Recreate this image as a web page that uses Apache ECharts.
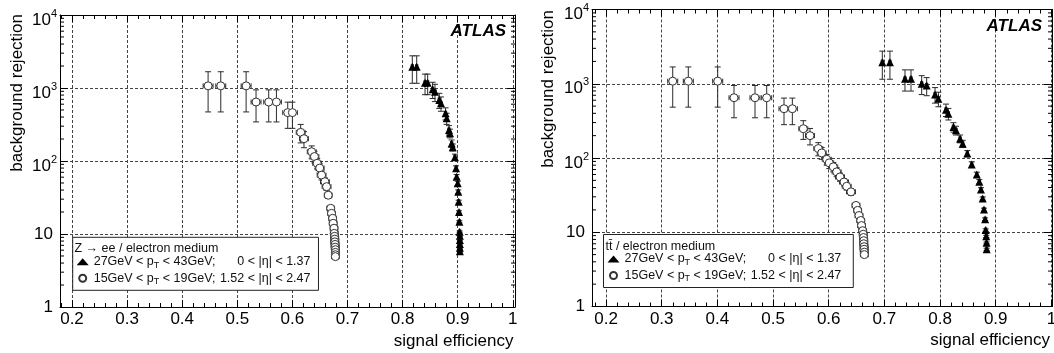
<!DOCTYPE html>
<html><head><meta charset="utf-8">
<script src="https://cdn.jsdelivr.net/npm/echarts@6/dist/echarts.min.js"></script>
<style>html,body{margin:0;padding:0;background:#fff}#c{width:1054px;height:353px}</style>
</head><body><div id="c"></div>
<script>
// ---------- data ----------
// Left panel: Z -> ee
const zeeCircX  = [0.447,0.470,0.516,0.534,0.557,0.571,0.5915,0.600,0.615,0.621,0.635,0.640,0.645,0.6495,0.653,0.659,0.662,0.665,0.6695,0.671,0.673,0.674,0.6755,0.676,0.6765,0.677,0.677,0.6775,0.6775,0.678,0.678,0.678,0.678];
const zeeCircY  = [1070,1070,1070,643,643,643,460,460,247,202,134,115,93,80,64,52,44.5,34,22.5,19.2,16.4,14,12,10.2,9.3,8.5,7.8,7.2,6.6,6.1,5.6,5.2,4.9];
const zeeCircEX = [0.009,0.009,0.009,0.009,0.009,0.009,0.009,0.009,0.008,0.008,0.008,0.008,0.008,0.008,0.008,0.008,0.008,0.007,0.007,0.007,0.007,0.007,0.007,0.007,0.007,0.007,0.007,0.007,0.007,0.007,0.007,0.007,0.007];
const zeeCircEY = [600,600,600,300,300,300,180,180,70,50,27,21,15,12,9,6.5,5,3.4,1.8,1.4,1.1,0.9,0.7,0.5,0.4,0.4,0.3,0.3,0.3,0.2,0.2,0.2,0.2];

const zeeTriX  = [0.8176,0.8256,0.8407,0.8455,0.8546,0.8588,0.8666,0.8697,0.878,0.880,0.8842,0.886,0.889,0.891,0.895,0.897,0.898,0.900,0.901,0.9018,0.9024,0.903,0.9036,0.904,0.904,0.904,0.904,0.904];
const zeeTriY  = [1960,1960,1180,1180,958,888,685,617,450,384,266,240,174,154,113,79.5,61,49.5,38,27.7,20,14.7,10.7,9.5,8.3,7.3,6.5,5.8];
const zeeTriEX = [0.002,0.002,0.002,0.002,0.002,0.002,0.002,0.002,0.002,0.002,0.002,0.002,0.002,0.002,0.002,0.002,0.002,0.002,0.002,0.002,0.002,0.002,0.002,0.002,0.002,0.002,0.002,0.002];
const zeeTriEY = [800,800,370,370,240,237,160,137,85,67,39,33,20,17,11,6.4,4.2,3.2,2.1,1.3,0.8,0.5,0.3,0.3,0.2,0.2,0.2,0.2];

// Right panel: ttbar
const ttCircX  = [0.3198,0.3478,0.4006,0.4299,0.4676,0.4886,0.5197,0.5347,0.5544,0.5664,0.5813,0.5874,0.5964,0.601,0.6082,0.6143,0.6203,0.6275,0.6323,0.640,0.649,0.652,0.6544,0.6575,0.659,0.661,0.662,0.6625,0.663,0.663,0.6635,0.6635,0.664,0.664];
const ttCircY  = [1084,1084,1084,648,648,648,461,461,248,200,134,117,96,86,76,65,55.6,47.5,41.6,35,23,19.7,16.8,14.4,12.3,10.5,9.4,8.5,7.7,7.0,6.4,5.9,5.4,5.0];
const ttCircEX = [0.009,0.009,0.009,0.009,0.009,0.009,0.009,0.009,0.008,0.008,0.008,0.008,0.008,0.008,0.008,0.008,0.008,0.008,0.008,0.008,0.007,0.007,0.007,0.007,0.007,0.007,0.007,0.007,0.007,0.007,0.007,0.007,0.007,0.007];
const ttCircEY = [600,600,600,300,300,300,180,180,70,50,27,21,16,14,11,9,7,5.5,4.6,3.5,1.9,1.5,1.2,1.0,0.8,0.6,0.5,0.4,0.3,0.3,0.3,0.2,0.2,0.2];

const ttTriX  = [0.6963,0.710,0.737,0.7478,0.767,0.776,0.791,0.797,0.8107,0.815,0.824,0.8287,0.836,0.8407,0.849,0.857,0.866,0.8705,0.8735,0.8766,0.879,0.881,0.882,0.883,0.8835,0.8838];
const ttTriY  = [1950,1950,1167,1167,1000,950,718,630,447,395,261,236,182,156,115,82,60,48,37.6,28.5,20.2,15,10.7,8.8,7.2,5.9];
const ttTriEX = [0.002,0.002,0.002,0.002,0.002,0.002,0.002,0.002,0.002,0.002,0.002,0.002,0.002,0.002,0.002,0.002,0.002,0.002,0.002,0.002,0.002,0.002,0.002,0.002,0.002,0.002];
const ttTriEY = [800,800,370,370,285,260,170,140,85,70,38,32,22,17,11,7,4.5,3.2,2.2,1.4,0.9,0.6,0.4,0.3,0.2,0.2];

// tick values / labels
const yMinorTicks = [2,3,4,5,6,7,8,9,20,30,40,50,60,70,80,90,200,300,400,500,600,700,800,900,2000,3000,4000,5000,6000,7000,8000,9000];
const nameTri  = '27GeV < pT < 43GeV;     0 < |η| < 1.37';
const nameCirc = '15GeV < pT < 19GeV; 1.52 < |η| < 2.47';
const panelHeaders = ['Z \u2192 ee / electron medium', 'tt\u0304 / electron medium'];
const xTitle = 'signal efficiency';
const yTitle = 'background rejection';
const atlasLabel = 'ATLAS';

// ---------- chart ----------
const FONT = "'Liberation Sans', Arial, Helvetica, sans-serif";
const chart = echarts.init(document.getElementById('c'), null, {renderer: 'canvas'});

const grids = [
  {left: 60, top: 15, width: 455, height: 292, xmin: 0.1782, xmax: 1.004},
  {left: 592, top: 9.5, width: 460, height: 297, xmin: 0.1748, xmax: 1.0011}
];

function xFmt(v) {
  const k = Math.round(v * 10);
  if (Math.abs(v * 10 - k) > 1e-6) return '';
  return k === 10 ? '1' : (k / 10).toFixed(1);
}
function yFmt(v) {
  const e = Math.round(Math.log10(v));
  if (e === 0) return '{p|1}';
  if (e === 1) return '{p|10}';
  return '{b|10}{s|' + e + '}';
}
const gridLine = {show: true, lineStyle: {color: '#444', width: 1, type: [3, 2]}};
const axisLineStyle = {show: true, onZero: false, lineStyle: {color: '#000', width: 1}};

const xAxes = [], yAxes = [], series = [], legends = [];
grids.forEach((g, gi) => {
  xAxes.push({
    type: 'value', gridIndex: gi, min: g.xmin, max: g.xmax, splitNumber: 8, position: 'bottom',
    axisLine: axisLineStyle,
    axisTick: {show: true, inside: true, length: 7, lineStyle: {color: '#000'}},
    minorTick: {show: true, splitNumber: 5, length: 4, lineStyle: {color: '#000'}},
    axisLabel: {show: true, formatter: xFmt, fontFamily: FONT, fontSize: 17, color: '#000', margin: 4,
      showMinLabel: true, showMaxLabel: true, hideOverlap: false},
    splitLine: gridLine, minorSplitLine: {show: false}
  });
  xAxes.push({
    type: 'value', gridIndex: gi, min: g.xmin, max: g.xmax, splitNumber: 8, position: 'top',
    axisLine: axisLineStyle,
    axisTick: {show: true, inside: true, length: 7, lineStyle: {color: '#000'}},
    minorTick: {show: true, splitNumber: 5, length: 4, lineStyle: {color: '#000'}},
    axisLabel: {show: false}, splitLine: {show: false}
  });
  yAxes.push({
    type: 'log', logBase: 10, gridIndex: gi, min: 1, max: 10000, position: 'left',
    axisLine: axisLineStyle,
    axisTick: {show: true, inside: true, length: 8, lineStyle: {color: '#000'}},
    minorTick: {show: false},
    axisLabel: {show: true, formatter: yFmt, fontFamily: FONT, fontSize: 17, color: '#000', margin: 3,
      rich: {
        p: {fontFamily: FONT, fontSize: 17, color: '#000', padding: [0, 4, 0, 0]},
        b: {fontFamily: FONT, fontSize: 17, color: '#000', lineHeight: 20, padding: [10, 0, 0, 0]},
        s: {fontFamily: FONT, fontSize: 11, color: '#000', lineHeight: 12, padding: [0, 0, 3, 0]}
      }},
    splitLine: gridLine
  });
  yAxes.push({
    type: 'log', logBase: 10, gridIndex: gi, min: 1, max: 10000, position: 'right',
    axisLine: axisLineStyle,
    axisTick: {show: true, inside: true, length: 8, lineStyle: {color: '#000'}},
    axisLabel: {show: false}, splitLine: {show: false}
  });
});

function errItem(params, api) {
  const x = api.value(0), y = api.value(1), ex = api.value(2), ey = api.value(3);
  const t = api.coord([x, y + ey]);
  const b = api.coord([x, y - ey]);
  const l = api.coord([x - ex, y]);
  const r = api.coord([x + ex, y]);
  const st = {stroke: '#2a2a2a', lineWidth: 1};
  const ln = (x1, y1, x2, y2) => ({type: 'line', shape: {x1, y1, x2, y2}, style: st});
  const cap = 3, hcap = 2.5;
  return {type: 'group', children: [
    ln(t[0], t[1], b[0], b[1]),
    ln(t[0] - cap, t[1], t[0] + cap, t[1]),
    ln(b[0] - cap, b[1], b[0] + cap, b[1]),
    ln(l[0], l[1], r[0], r[1]),
    ln(l[0], l[1] - hcap, l[0], l[1] + hcap),
    ln(r[0], r[1] - hcap, r[0], r[1] + hcap)
  ]};
}
function minorTickItem(params, api) {
  const cs = params.coordSys;
  const y = api.coord([api.value(0), api.value(1)])[1];
  const L = 4, st = {stroke: '#000', lineWidth: 1};
  return {type: 'group', children: [
    {type: 'line', shape: {x1: cs.x, y1: y, x2: cs.x + L, y2: y}, style: st},
    {type: 'line', shape: {x1: cs.x + cs.width - L, y1: y, x2: cs.x + cs.width, y2: y}, style: st}
  ]};
}
const rows = (X, Y, EX, EY) => X.map((x, i) => [x, Y[i], EX[i], EY[i]]);
const pts = (X, Y) => X.map((x, i) => [x, Y[i]]);

const panels = [
  {circ: [zeeCircX, zeeCircY, zeeCircEX, zeeCircEY], tri: [zeeTriX, zeeTriY, zeeTriEX, zeeTriEY]},
  {circ: [ttCircX, ttCircY, ttCircEX, ttCircEY], tri: [ttTriX, ttTriY, ttTriEX, ttTriEY]}
];
panels.forEach((p, gi) => {
  const xi = gi * 2, yi = gi * 2;
  series.push({type: 'custom', name: 'minor ticks ' + gi, xAxisIndex: xi, yAxisIndex: yi, silent: true, clip: false,
    renderItem: minorTickItem, data: yMinorTicks.map(v => [0.5, v]), encode: {x: 0, y: 1}, z: 5});
  series.push({type: 'custom', name: 'circle errors ' + gi, xAxisIndex: xi, yAxisIndex: yi, silent: true,
    renderItem: errItem, data: rows(...p.circ), encode: {x: 0, y: 1}, z: 2});
  series.push({type: 'custom', name: 'triangle errors ' + gi, xAxisIndex: xi, yAxisIndex: yi, silent: true,
    renderItem: errItem, data: rows(...p.tri), encode: {x: 0, y: 1}, z: 2});
  series.push({type: 'scatter', name: nameCirc, xAxisIndex: xi, yAxisIndex: yi, symbol: 'circle', symbolSize: 8,
    itemStyle: {color: '#fff', borderColor: '#333', borderWidth: 1, opacity: 1}, data: pts(p.circ[0], p.circ[1]), z: 3});
  series.push({type: 'scatter', name: nameTri, xAxisIndex: xi, yAxisIndex: yi, symbol: 'triangle', symbolSize: 8,
    itemStyle: {color: '#000', opacity: 1}, data: pts(p.tri[0], p.tri[1]), z: 3});
});

function legendFmt(name) {
  if (name === nameTri) return '{a|27GeV < p}{s|T}{a| < 43GeV;}{b|0 < |η| < 1.37}';
  return '{a|15GeV < p}{s|T}{a| < 19GeV;}{b|1.52 < |η| < 2.47}';
}
const legendPos = [{left: 72.7, top: 237.3, pr: 8}, {left: 603.5, top: 234.5, pr: 12}];
legendPos.forEach((lp, i) => {
  legends.push({
    show: true, orient: 'vertical', left: lp.left, top: lp.top, data: [nameTri, nameCirc],
    selectedMode: false, itemWidth: 12, itemHeight: 7, itemGap: 2,
    padding: [18, lp.pr, 4, 4], borderColor: '#222', borderWidth: 1, backgroundColor: '#fff',
    formatter: legendFmt,
    textStyle: {fontFamily: FONT, fontSize: 12.5, color: '#111', rich: {
      a: {fontFamily: FONT, fontSize: 12.5, color: '#111'},
      s: {fontFamily: FONT, fontSize: 9, color: '#111', padding: [7, 0, 0, 0]},
      b: {fontFamily: FONT, fontSize: 12.5, color: '#111', width: 95, align: 'right'}
    }}, z: 10
  });
});

const txt = (x, y, text, extra) => Object.assign({type: 'text', x, y, z: 100,
  style: Object.assign({text, fontFamily: FONT, fontSize: 17, fill: '#000'}, extra || {})});
const graphics = [
  txt(17, 14, yTitle, {align: 'right', verticalAlign: 'middle'}),
  txt(548, 10, yTitle, {align: 'right', verticalAlign: 'middle'}),
  txt(513.5, 341, xTitle, {align: 'right', verticalAlign: 'middle'}),
  txt(1050, 340, xTitle, {align: 'right', verticalAlign: 'middle'}),
  txt(506, 31, atlasLabel, {align: 'right', verticalAlign: 'middle', fontWeight: 'bold', fontStyle: 'italic'}),
  txt(1042, 26, atlasLabel, {align: 'right', verticalAlign: 'middle', fontWeight: 'bold', fontStyle: 'italic'}),
  txt(74.5, 248.5, panelHeaders[0], {align: 'left', verticalAlign: 'middle', fontSize: 12.5, fill: '#111'}),
  txt(605.5, 246.5, panelHeaders[1], {align: 'left', verticalAlign: 'middle', fontSize: 12.5, fill: '#111'})
];
graphics[0].rotation = Math.PI / 2;
graphics[1].rotation = Math.PI / 2;

chart.setOption({
  animation: false,
  backgroundColor: '#fff',
  textStyle: {fontFamily: FONT},
  grid: grids.map(g => ({left: g.left, top: g.top, width: g.width, height: g.height, containLabel: false, outerBoundsMode: 'none'})),
  xAxis: xAxes, yAxis: yAxes, legend: legends, series, graphic: graphics
});
</script></body></html>
